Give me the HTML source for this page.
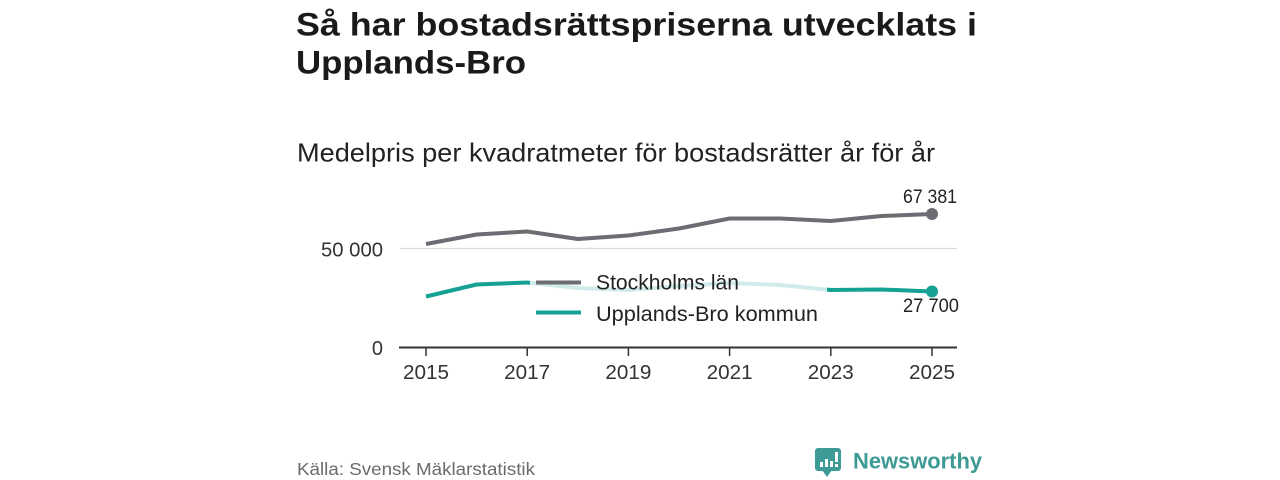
<!DOCTYPE html>
<html>
<head>
<meta charset="utf-8">
<style>
  html,body{margin:0;padding:0;background:#fff;}
  body{width:1280px;height:480px;overflow:hidden;}
  svg{display:block;}
  text{font-family:"Liberation Sans", "DejaVu Sans", sans-serif;}
</style>
</head>
<body>
<svg width="1280" height="480" viewBox="0 0 1280 480" xmlns="http://www.w3.org/2000/svg">
  <rect width="1280" height="480" fill="#fff"/>
  <!-- Title -->
  <text x="296" y="35.5" font-size="32.5" font-weight="bold" fill="#1a1a1a" textLength="681" lengthAdjust="spacingAndGlyphs">Så har bostadsrättspriserna utvecklats i</text>
  <text x="296" y="73.5" font-size="32.5" font-weight="bold" fill="#1a1a1a" textLength="230" lengthAdjust="spacingAndGlyphs">Upplands-Bro</text>
  <!-- Subtitle -->
  <text x="297" y="161.5" font-size="26" fill="#222" textLength="638" lengthAdjust="spacingAndGlyphs">Medelpris per kvadratmeter för bostadsrätter år för år</text>

  <!-- Gridline -->
  <line x1="400" y1="248.5" x2="957" y2="248.5" stroke="#dcdcdc" stroke-width="1.2"/>
  <!-- Y labels -->
  <text x="383" y="256.5" font-size="20" fill="#333" text-anchor="end" textLength="62" lengthAdjust="spacingAndGlyphs">50 000</text>
  <text x="383" y="355" font-size="20" fill="#333" text-anchor="end">0</text>

  <!-- Axis -->
  <line x1="399" y1="347.5" x2="957" y2="347.5" stroke="#333" stroke-width="2"/>
  <g stroke="#333" stroke-width="1.5">
    <line x1="426" y1="347" x2="426" y2="356"/>
    <line x1="527.2" y1="347" x2="527.2" y2="356"/>
    <line x1="628.4" y1="347" x2="628.4" y2="356"/>
    <line x1="729.6" y1="347" x2="729.6" y2="356"/>
    <line x1="830.8" y1="347" x2="830.8" y2="356"/>
    <line x1="932" y1="347" x2="932" y2="356"/>
  </g>
  <g font-size="20" fill="#333" text-anchor="middle">
    <text x="426" y="379" textLength="46" lengthAdjust="spacingAndGlyphs">2015</text>
    <text x="527.2" y="379" textLength="46" lengthAdjust="spacingAndGlyphs">2017</text>
    <text x="628.4" y="379" textLength="46" lengthAdjust="spacingAndGlyphs">2019</text>
    <text x="729.6" y="379" textLength="46" lengthAdjust="spacingAndGlyphs">2021</text>
    <text x="830.8" y="379" textLength="46" lengthAdjust="spacingAndGlyphs">2023</text>
    <text x="932" y="379" textLength="46" lengthAdjust="spacingAndGlyphs">2025</text>
  </g>

  <!-- Stockholm series -->
  <polyline fill="none" stroke="#6d6c73" stroke-width="4" stroke-linejoin="round"
    points="426,244 476.6,234.5 527.2,231.5 577.8,239 628.4,235.5 679,228.5 729.6,218.5 780.2,218.5 830.8,221 881.4,216 932,214"/>
  <circle cx="932" cy="214" r="6" fill="#6d6c73"/>

  <!-- Upplands-Bro series -->
  <polyline fill="none" stroke="#16a195" stroke-width="4" stroke-linejoin="round"
    points="426,296.5 476.6,284.5 527.2,282.5 577.8,288 628.4,290 679,286 729.6,283 780.2,285 830.8,290 881.4,289.5 932,291.5"/>
  <circle cx="932" cy="291.5" r="6" fill="#16a195"/>

  <!-- Legend overlay -->
  <rect x="530" y="262" width="297" height="68" fill="#fff" fill-opacity="0.8"/>
  <line x1="536" y1="282.5" x2="581" y2="282.5" stroke="#6d6c73" stroke-width="4"/>
  <text x="596" y="289.5" font-size="21" fill="#222" textLength="143" lengthAdjust="spacingAndGlyphs">Stockholms län</text>
  <line x1="536" y1="312.5" x2="581" y2="312.5" stroke="#16a195" stroke-width="4"/>
  <text x="596" y="321" font-size="21" fill="#222" textLength="222" lengthAdjust="spacingAndGlyphs">Upplands-Bro kommun</text>

  <!-- Value labels -->
  <text x="903" y="203" font-size="19" fill="#222" textLength="54" lengthAdjust="spacingAndGlyphs">67 381</text>
  <text x="903" y="312" font-size="19" fill="#222" textLength="56" lengthAdjust="spacingAndGlyphs">27 700</text>

  <!-- Footer -->
  <text x="297" y="475" font-size="17.5" fill="#6b6b6b" textLength="238" lengthAdjust="spacingAndGlyphs">Källa: Svensk Mäklarstatistik</text>

  <!-- Newsworthy logo -->
  <g>
    <rect x="815" y="448" width="26" height="23" rx="3" fill="#3d9a94"/>
    <polygon points="822,470 832,470 827,477" fill="#3d9a94"/>
    <rect x="820" y="462" width="3" height="5" fill="#fff"/>
    <rect x="825" y="459" width="3" height="8" fill="#fff"/>
    <rect x="830" y="461" width="3" height="6" fill="#fff"/>
    <rect x="835" y="452" width="3" height="10" fill="#fff"/>
    <rect x="835" y="464" width="3" height="3" fill="#fff"/>
  </g>
  <text x="853" y="468.5" font-size="22.5" font-weight="bold" fill="#3d9a94" textLength="129" lengthAdjust="spacingAndGlyphs">Newsworthy</text>
</svg>
</body>
</html>
